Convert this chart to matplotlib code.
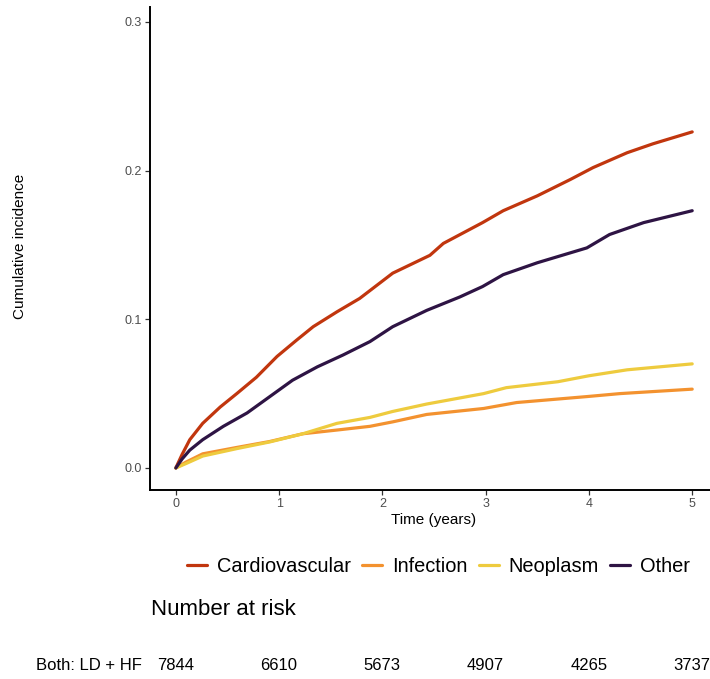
import numpy as np
import matplotlib.pyplot as plt
from matplotlib.transforms import blended_transform_factory

plt.rcParams['font.family'] = ['Liberation Sans', 'DejaVu Sans']

# Cumulative incidence by cause of death (years, proportion)
t_cardio = [0, 0.06, 0.135, 0.26, 0.43, 0.59, 0.78, 0.98, 1.17, 1.33, 1.56, 1.78, 2.1, 2.46,
            2.59, 2.97, 3.17, 3.5, 3.82, 4.04, 4.37, 4.62, 5.0]
v_cardio = [0, 0.009, 0.019, 0.030, 0.041, 0.050, 0.061, 0.075, 0.086, 0.095, 0.105, 0.114,
            0.131, 0.143, 0.151, 0.165, 0.173, 0.183, 0.194, 0.202, 0.212, 0.218, 0.226]

t_infect = [0, 0.1, 0.26, 0.59, 0.91, 1.23, 1.56, 1.88, 2.1, 2.43, 2.98, 3.3, 3.98, 4.3, 5.0]
v_infect = [0, 0.004, 0.0095, 0.0138, 0.0178, 0.023, 0.0255, 0.028, 0.031, 0.036, 0.04, 0.044,
            0.048, 0.05, 0.053]

t_neo = [0, 0.1, 0.26, 0.59, 0.91, 1.23, 1.56, 1.88, 2.1, 2.43, 2.98, 3.2, 3.7, 4.0, 4.37, 5.0]
v_neo = [0, 0.003, 0.008, 0.013, 0.0175, 0.023, 0.030, 0.034, 0.038, 0.043, 0.05, 0.054,
         0.058, 0.062, 0.066, 0.07]

t_other = [0, 0.06, 0.135, 0.26, 0.46, 0.69, 0.91, 1.13, 1.37, 1.62, 1.88, 2.1, 2.43, 2.75,
           2.97, 3.17, 3.5, 3.98, 4.2, 4.53, 5.0]
v_other = [0, 0.006, 0.012, 0.019, 0.028, 0.037, 0.048, 0.059, 0.068, 0.076, 0.085, 0.095,
           0.106, 0.115, 0.122, 0.13, 0.138, 0.148, 0.157, 0.165, 0.173]

causes = ['Cardiovascular', 'Infection', 'Neoplasm', 'Other']
colors = ['#C1360E', '#F3922F', '#EECB3E', '#2E1444']

risk_times = [0, 1, 2, 3, 4, 5]
risk_counts = [7844, 6610, 5673, 4907, 4265, 3737]
risk_label = 'Both: LD + HF'

fig = plt.figure(figsize=(7.1, 6.79), dpi=100)
ax = fig.add_axes([0.2113, 0.2784, 0.80, 0.7113])

series = [(t_cardio, v_cardio), (t_infect, v_infect), (t_neo, v_neo), (t_other, v_other)]
for (t, v), name, col in zip(series, causes, colors):
    ax.plot(t, v, color=col, lw=2.3, label=name, solid_capstyle='round')

ax.set_xlim(-0.25, 5.25)
ax.set_ylim(-0.0148, 0.31)
ax.set_xticks([0, 1, 2, 3, 4, 5])
ax.set_yticks([0.0, 0.1, 0.2, 0.3])
ax.set_yticklabels(['0.0', '0.1', '0.2', '0.3'])
for s in ['top', 'right']:
    ax.spines[s].set_visible(False)
for s in ['left', 'bottom']:
    ax.spines[s].set_linewidth(1.4)
ax.tick_params(length=3.5, width=0.9, color='#333333', labelcolor='#4D4D4D',
               labelsize=9, pad=2.5)

fig.text(0.61, 0.234, 'Time (years)', ha='center', va='center', fontsize=11)
fig.text(0.028, 0.637, 'Cumulative incidence', rotation=90, ha='center', va='center',
         fontsize=11)

fig.legend(loc='center', bbox_to_anchor=(0.618, 0.1664), ncol=4, frameon=False,
           fontsize=14.4, handlelength=1.0, handletextpad=0.5, columnspacing=0.55)

# risk table under the plot
fig.text(0.2125, 0.103, 'Number at risk', ha='left', va='center', fontsize=16)
tr = blended_transform_factory(ax.transData, fig.transFigure)
for x, n in zip(risk_times, risk_counts):
    ax.text(x, 0.0206, str(n), transform=tr, ha='center', va='center', fontsize=12,
            clip_on=False)
fig.text(0.2, 0.0206, risk_label, ha='right', va='center', fontsize=12)

fig.savefig('out.png', dpi=100)
